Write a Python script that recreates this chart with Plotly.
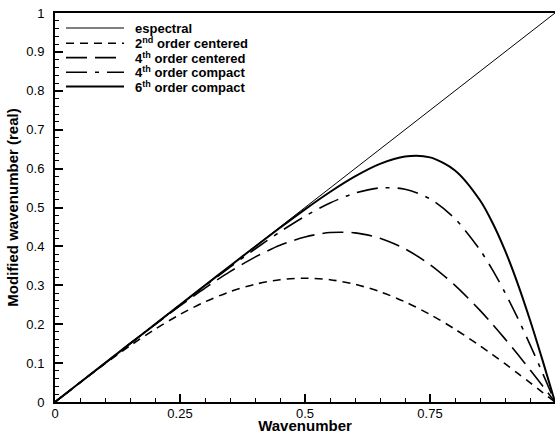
import plotly.graph_objects as go

# ---- data ----
wavenumber = [0.0, 0.05, 0.1, 0.15, 0.2, 0.25, 0.3, 0.35, 0.4, 0.45, 0.5,
              0.55, 0.6, 0.65, 0.7, 0.75, 0.8, 0.85, 0.875, 0.9, 0.925, 0.95, 0.975, 1.0]

spectral_x = [0.0, 1.0]
spectral_y = [0.0, 1.0]

centered_2nd = [0.0, 0.0498, 0.0984, 0.1445, 0.1871, 0.2251, 0.2575, 0.2836, 0.3027, 0.3144, 0.3183,
                0.3144, 0.3027, 0.2836, 0.2575, 0.2251, 0.1871, 0.1445, 0.1218, 0.0984, 0.0743, 0.0498, 0.0250, 0.0]

centered_4th = [0.0, 0.0500, 0.1000, 0.1498, 0.1990, 0.2471, 0.2929, 0.3352, 0.3725, 0.4028, 0.4244,
                0.4356, 0.4348, 0.4211, 0.3938, 0.3532, 0.2999, 0.2356, 0.1999, 0.1623, 0.1232, 0.0828, 0.0416, 0.0]

compact_4th = [0.0, 0.0500, 0.1000, 0.1500, 0.1998, 0.2494, 0.2985, 0.3467, 0.3933, 0.4374, 0.4775,
               0.5116, 0.5371, 0.5504, 0.5471, 0.5223, 0.4713, 0.3909, 0.3396, 0.2813, 0.2169, 0.1476, 0.0747, 0.0]

compact_6th = [0.0, 0.0500, 0.1000, 0.1500, 0.2000, 0.2500, 0.2999, 0.3497, 0.3991, 0.4478, 0.4952,
               0.5399, 0.5800, 0.6122, 0.6311, 0.6289, 0.5953, 0.5185, 0.4608, 0.3897, 0.3058, 0.2108, 0.1076, 0.0]

x_tickvals = [0, 0.25, 0.5, 0.75]
x_ticktext = ["0", "0.25", "0.5", "0.75"]
y_tickvals = [0, 0.1, 0.2, 0.3, 0.4, 0.5, 0.6, 0.7, 0.8, 0.9, 1.0]
y_ticktext = ["0", "0.1", "0.2", "0.3", "0.4", "0.5", "0.6", "0.7", "0.8", "0.9", "1"]

legend_labels = ["espectral", "2<sup>nd</sup> order centered", "4<sup>th</sup> order centered",
                 "4<sup>th</sup> order compact", "6<sup>th</sup> order compact"]

# ---- styles ----
FONT = "Liberation Sans, Arial, sans-serif"
styles = [
    dict(width=1, dash="solid"),
    dict(width=1.6, dash="8px,6px"),
    dict(width=1.6, dash="21px,8px"),
    dict(width=1.6, dash="21px,8px,4px,8px"),
    dict(width=2, dash="solid"),
]

fig = go.Figure()
series = [(spectral_x, spectral_y)] + [(wavenumber, s) for s in
                                      (centered_2nd, centered_4th, compact_4th, compact_6th)]
for (xs, ys), st, name in zip(series, styles, legend_labels):
    fig.add_trace(go.Scatter(
        x=xs, y=ys, mode="lines", name=name, showlegend=False, hoverinfo="skip",
        line=dict(color="black", width=st["width"], dash=st["dash"],
                  shape="spline" if len(xs) > 2 else "linear", smoothing=0.8),
    ))

# ---- manual legend (paper coordinates) ----
W, H = 555, 434
ml, mr, mt, mb = 55, 0, 13, 32
pw, ph = W - ml - mr, H - mt - mb
leg_y_px = [28, 43.3, 57.6, 72.3, 86.6]
for ypx, st, name in zip(leg_y_px, styles, legend_labels):
    yp = (H - mb - ypx) / ph
    fig.add_shape(type="line", xref="paper", yref="paper",
                  x0=(66 - ml) / pw, x1=(124 - ml) / pw, y0=yp, y1=yp,
                  line=dict(color="black", width=st["width"], dash=st["dash"]))
    fig.add_annotation(xref="paper", yref="paper", x=(133 - ml) / pw, y=yp,
                       xanchor="left", yanchor="middle", showarrow=False,
                       text="<b>" + name + "</b>",
                       font=dict(family=FONT, size=13, color="black"))

fig.update_layout(
    width=W, height=H,
    margin=dict(l=ml, r=mr, t=mt, b=mb, pad=0),
    paper_bgcolor="white", plot_bgcolor="white",
    font=dict(family=FONT, size=13, color="black"),
    showlegend=False,
)
fig.update_xaxes(
    range=[0, 1], showgrid=False, zeroline=False,
    showline=True, linecolor="black", linewidth=2, mirror=True,
    tickmode="array", tickvals=x_tickvals, ticktext=x_ticktext,
    ticks="inside", ticklen=8, tickwidth=1.5, tickcolor="black",
    minor=dict(ticks="inside", ticklen=4, tickwidth=1, tickcolor="black", dtick=0.05, showgrid=False),
    tickfont=dict(size=13, family=FONT), ticklabelstandoff=-2,
    title=dict(text="<b>Wavenumber</b>", font=dict(size=15, family=FONT), standoff=3),
)
fig.update_yaxes(
    range=[0, 1], showgrid=False, zeroline=False,
    showline=True, linecolor="black", linewidth=2, mirror=False,
    tickmode="array", tickvals=y_tickvals, ticktext=y_ticktext,
    ticks="inside", ticklen=8, tickwidth=1.5, tickcolor="black",
    minor=dict(ticks="inside", ticklen=4, tickwidth=1, tickcolor="black", dtick=0.02, showgrid=False),
    tickfont=dict(size=13, family=FONT), ticklabelstandoff=6,
    title=dict(text="<b>Modified wavenumber (real)</b>", font=dict(size=15, family=FONT), standoff=4),
)

fig.write_html(
    "out.html",
    config={"displayModeBar": False},
    post_script="document.body.style.margin='0';document.body.style.overflow='hidden';",
)
